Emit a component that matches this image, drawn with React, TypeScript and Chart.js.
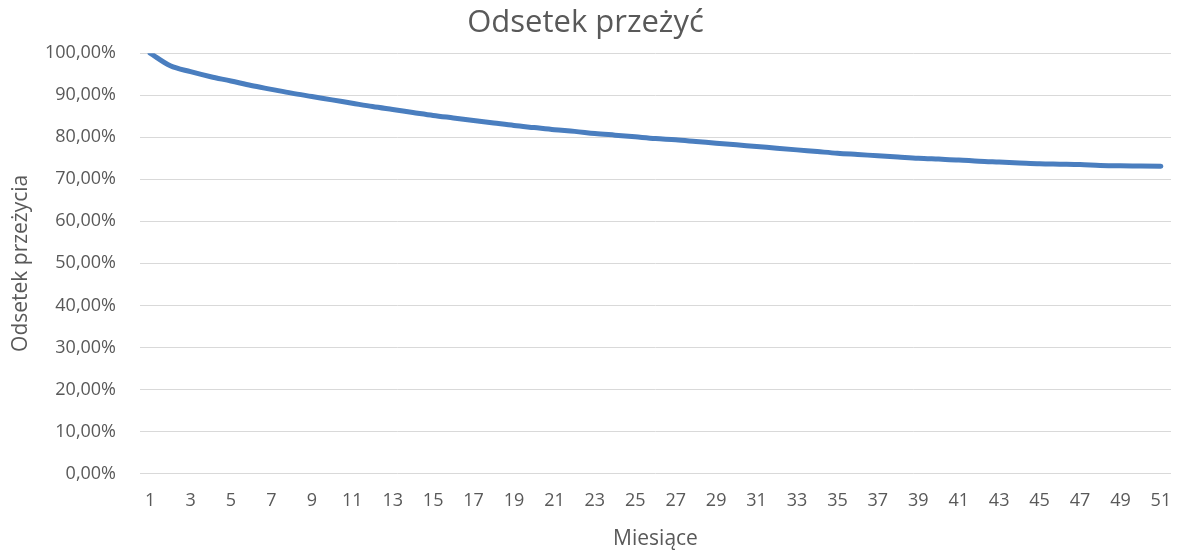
import React, { useEffect, useRef } from "react";
import { Chart, registerables } from "chart.js";

Chart.register(...registerables);

const months: string[] = Array.from({ length: 51 }, (_, i) => String(i + 1));

const survival: number[] = [
  100.0, 97.0, 95.6, 94.4, 93.4, 92.3, 91.4, 90.5, 89.7, 88.9,
  88.1, 87.3, 86.6, 85.9, 85.2, 84.6, 84.0, 83.4, 82.8, 82.3,
  81.8, 81.4, 80.9, 80.5, 80.1, 79.7, 79.4, 79.0, 78.6, 78.2,
  77.8, 77.4, 77.0, 76.6, 76.2, 75.9, 75.6, 75.3, 75.0, 74.8,
  74.6, 74.3, 74.1, 73.9, 73.7, 73.6, 73.5, 73.3, 73.2, 73.15,
  73.1,
];

const chartTitle = "Odsetek przeżyć";
const xTitle = "Miesiące";
const yTitle = "Odsetek przeżycia";

const FONT = "'Open Sans'";
const TEXT = "#595959";

export default function App() {
  const ref = useRef<HTMLCanvasElement | null>(null);

  useEffect(() => {
    if (!ref.current) return;
    const chart = new Chart(ref.current, {
      type: "line",
      data: {
        labels: months,
        datasets: [
          {
            data: survival,
            borderColor: "#4a7ebf",
            borderWidth: 5,
            borderCapStyle: "round",
            borderJoinStyle: "round",
            pointRadius: 0,
            cubicInterpolationMode: "monotone",
            fill: false,
          },
        ],
      },
      options: {
        animation: false,
        responsive: false,
        maintainAspectRatio: false,
        layout: { padding: { left: 0, right: 7, top: 0, bottom: 0 } },
        plugins: {
          legend: { display: false },
          tooltip: { enabled: false },
          title: {
            display: true,
            text: chartTitle,
            color: TEXT,
            font: { family: FONT, size: 31, weight: "normal", lineHeight: 1.2 },
            padding: { top: 5, bottom: 11 },
          },
        },
        scales: {
          x: {
            type: "category",
            offset: true,
            grid: {
              display: true,
              drawOnChartArea: false,
              drawTicks: true,
              tickLength: 17,
              color: "rgba(0,0,0,0)",
            },
            border: { display: false },
            ticks: {
              autoSkip: false,
              maxRotation: 0,
              padding: 0,
              color: TEXT,
              font: { family: FONT, size: 18 },
              callback: (_v: any, i: number) => (i % 2 === 0 ? months[i] : ""),
            },
            title: {
              display: true,
              text: xTitle,
              color: TEXT,
              font: { family: FONT, size: 21 },
              padding: { top: 0, bottom: 2 },
            },
            afterFit: (s: any) => {
              s.height = 80.5;
            },
          },
          y: {
            min: 0,
            max: 100,
            grid: { color: "#d9d9d9", lineWidth: 1, drawTicks: false },
            border: { display: false },
            ticks: {
              stepSize: 10,
              padding: 24,
              color: TEXT,
              font: { family: FONT, size: 18 },
              callback: (v: any) => Number(v).toFixed(2).replace(".", ",") + "%",
            },
            title: {
              display: true,
              text: yTitle,
              color: TEXT,
              font: { family: FONT, size: 21 },
              padding: { top: 8, bottom: 0 },
            },
            afterFit: (s: any) => {
              s.width = 140;
            },
          },
        },
      },
    });
    return () => chart.destroy();
  }, []);

  return (
    <div style={{ position: "fixed", left: 0, top: 0, width: 1178, height: 554, background: "#fff" }}>
      <canvas ref={ref} width={1178} height={554} style={{ display: "block" }} />
    </div>
  );
}
